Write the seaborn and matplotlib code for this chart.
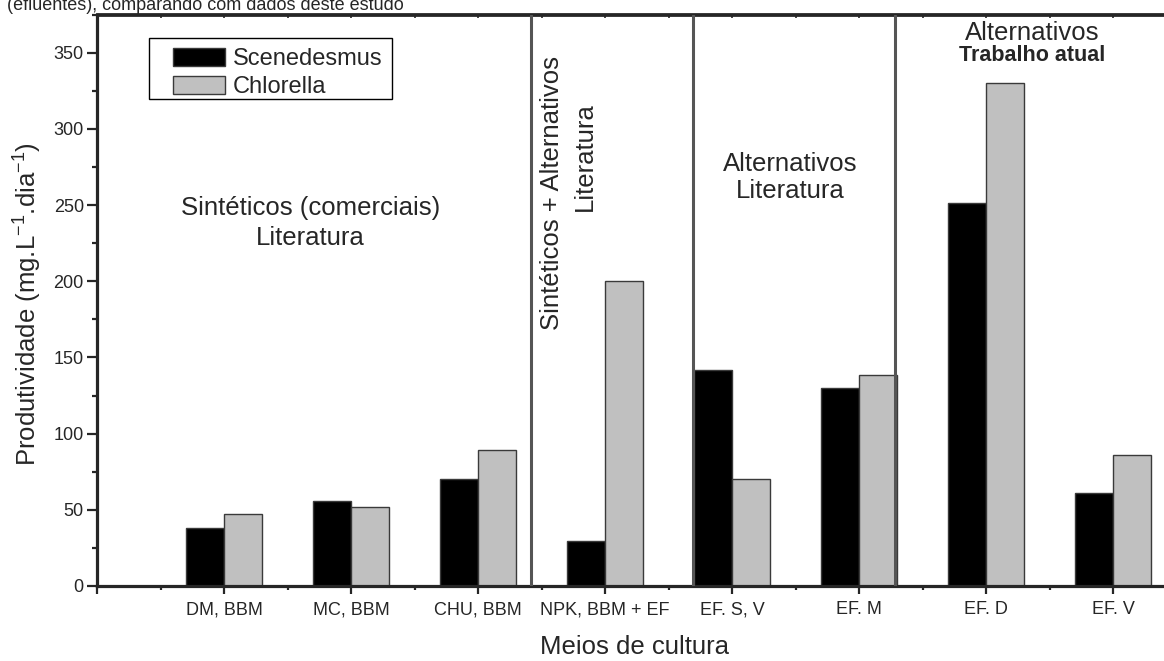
import numpy as np
import pandas as pd
import matplotlib
matplotlib.use("Agg")
import matplotlib.pyplot as plt
from matplotlib.patches import Rectangle
from matplotlib.ticker import MultipleLocator, FixedLocator, NullFormatter
import seaborn as sns

# dados
meios = ['DM, BBM', 'MC, BBM', 'CHU, BBM', 'NPK, BBM + EF',
         'EF. S, V', 'EF. M', 'EF. D', 'EF. V']
posicoes = [1, 2, 3, 4, 5, 6, 7, 8]
scenedesmus = [38, 56, 70, 29.5, 142, 130, 251, 61]
chlorella = [47, 52, 89, 200, 70, 138.5, 330, 86]
separadores = [3.42, 4.69, 6.28]

df = pd.DataFrame({
    'pos': posicoes * 2,
    'meio': meios * 2,
    'especie': ['Scenedesmus'] * len(meios) + ['Chlorella'] * len(meios),
    'valor': scenedesmus + chlorella,
})

sns.set_style('ticks')
plt.rcParams['font.family'] = ['Liberation Sans', 'DejaVu Sans']
plt.rcParams['mathtext.fontset'] = 'custom'
plt.rcParams['mathtext.rm'] = 'Liberation Sans'
plt.rcParams['mathtext.it'] = 'Liberation Sans:italic'
plt.rcParams['mathtext.bf'] = 'Liberation Sans:bold'

fig = plt.figure(figsize=(11.64, 6.61), dpi=100)
W, H = 1164, 661
x0, y0 = 97, 586          # pixel do canto (0, 0)
px_x, px_y = 127, 1.524   # pixels por unidade
ax = fig.add_axes([x0 / W, (H - y0) / H, 9 * px_x / W, 375 * px_y / H])

sns.barplot(data=df, x='pos', y='valor', hue='especie', native_scale=True,
            width=0.6, palette={'Scenedesmus': 'black', 'Chlorella': '#c0c0c0'},
            edgecolor='#3a3a3a', linewidth=1, errorbar=None, ax=ax)

ax.set_xlim(0, 9)
ax.set_ylim(0, 375)

for xs in separadores:
    ax.axvline(xs, color='#555555', lw=2.2, zorder=3)

# eixos
for s in ['left', 'bottom']:
    ax.spines[s].set_linewidth(2.3)
ax.spines['top'].set_linewidth(2.0)
ax.spines['right'].set_visible(False)

ax.xaxis.set_major_locator(FixedLocator(range(0, 10)))
ax.set_xticklabels([''] + meios + [''])
ax.xaxis.set_minor_locator(MultipleLocator(0.5))
ax.yaxis.set_major_locator(MultipleLocator(50))
ax.yaxis.set_minor_locator(MultipleLocator(25))
ax.tick_params(axis='x', which='major', length=6, width=1.6, pad=5, labelsize=13)
ax.tick_params(axis='x', which='minor', length=3, width=1.6)
ax.tick_params(axis='y', which='major', length=7.5, width=1.6, pad=2, labelsize=13)
ax.tick_params(axis='y', which='minor', length=3.8, width=1.6)

top = ax.secondary_xaxis('top')
top.xaxis.set_major_locator(MultipleLocator(0.5))
top.xaxis.set_major_formatter(NullFormatter())
top.tick_params(direction='in', length=3, width=1.2)
top.spines['top'].set_linewidth(2.0)

ax.set_xlabel('Meios de cultura', fontsize=18.5)
ax.set_ylabel(r'Produtividade (mg.L$^{-1}$.dia$^{-1}$)', fontsize=18.5)
ax.xaxis.set_label_coords((635 - x0) / (9 * px_x), (y0 - 635) / (375 * px_y))
ax.yaxis.set_label_coords((44 - x0) / (9 * px_x), (y0 - 304) / (375 * px_y))

# anotações dos grupos
ax.text(1.68, 238, 'Sintéticos (comerciais)\nLiteratura', ha='center', va='center',
        fontsize=18.5, linespacing=1.3)
ax.text(3.58, 258, 'Sintéticos + Alternativos', rotation=90, ha='center', va='center',
        fontsize=18.5)
ax.text(3.84, 282, 'Literatura', rotation=90, ha='center', va='center', fontsize=18.5)
ax.text(5.46, 268, 'Alternativos\nLiteratura', ha='center', va='center', fontsize=18.5,
        linespacing=1.15)
ax.text(7.36, 363, 'Alternativos', ha='center', va='center', fontsize=18.5)
ax.text(7.36, 348, 'Trabalho atual', ha='center', va='center', fontsize=15.5,
        fontweight='bold')

# legenda: caixa desenhada à parte para ter margens como no original
ax.add_patch(Rectangle((149 / W, 1 - 99 / H), (392 - 149) / W, (99 - 38) / H,
                       transform=fig.transFigure, facecolor='white', edgecolor='black',
                       lw=1.0, clip_on=False, zorder=4))
handles, labels = ax.get_legend_handles_labels()
leg = ax.legend(handles, labels, loc='upper left', bbox_to_anchor=(173 / W, 1 - 48 / H),
                bbox_transform=fig.transFigure, borderaxespad=0, frameon=False,
                fontsize=17, handlelength=2.2, handleheight=0.8, handletextpad=0.35,
                labelspacing=0.25, borderpad=0)
leg.set_zorder(5)

# legenda cortada no topo da figura original
fig.text(7 / W, 1 - 10 / H, '(efluentes), comparando com dados deste estudo',
         fontsize=13, va='baseline', ha='left')

fig.savefig('out.png', dpi=100)
